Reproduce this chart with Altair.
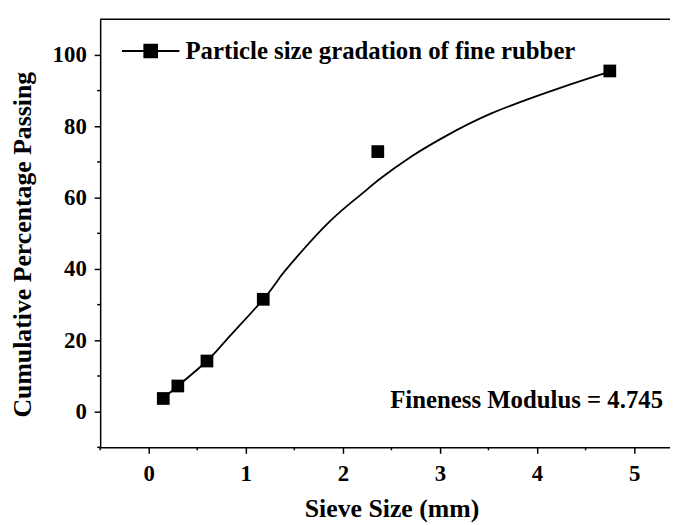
import altair as alt
import pandas as pd

# measured data points
sieve = [0.15, 0.3, 0.6, 1.18, 2.36, 4.75]
passing = [3.7, 7.2, 14.2, 31.5, 72.9, 95.5]

# fitted curve
curve_x = [0.15, 0.3, 0.6, 0.81, 1.18, 1.35, 1.52, 1.86, 2.17, 2.38, 2.71, 3.05, 3.53, 4.21, 4.75]
curve_y = [3.7, 7.2, 14.2, 20.4, 31.5, 37.6, 43.2, 53.2, 60.5, 65.2, 71.6, 77.1, 83.6, 90.5, 95.3]

series_name = "Particle size gradation of fine rubber"
annotation = ["Fineness Modulus = 4.745"]

x_major = [0, 1, 2, 3, 4, 5]
x_minor = [-0.5, 0.5, 1.5, 2.5, 3.5, 4.5]
y_major = [0, 20, 40, 60, 80, 100]
y_minor = [-10, 10, 30, 50, 70, 90]

FONT = "Liberation Serif"
W, H = 575, 432

pts = pd.DataFrame({"x": sieve, "y": passing, "series": [series_name] * len(sieve)})
crv = pd.DataFrame({"x": curve_x, "y": curve_y})
ann = pd.DataFrame({"label": annotation})
xmin_df = pd.DataFrame({"v": x_minor})
ymin_df = pd.DataFrame({"v": y_minor})

xscale = alt.Scale(domain=[-0.5, 5.37], nice=False, zero=False)
yscale = alt.Scale(domain=[-10, 110], nice=False, zero=False)

xaxis = alt.Axis(
    title="Sieve Size (mm)",
    values=x_major,
    format="d",
    tickSize=6,
    labelPadding=9,
    titleX=294,
    titleY=70,
    titleAlign="center",
    titleBaseline="alphabetic",
)
yaxis = alt.Axis(
    title="Cumulative Percentage Passing",
    values=y_major,
    format="d",
    tickSize=6,
    labelPadding=8,
    titleX=-78,
    titleY=227,
    titleAngle=270,
    titleAlign="center",
    titleBaseline="middle",
)

curve = alt.Chart(crv).mark_line(color="black", strokeWidth=1.8, interpolate="natural").encode(
    x=alt.X("x:Q", scale=xscale, axis=xaxis),
    y=alt.Y("y:Q", scale=yscale, axis=yaxis),
)

points = alt.Chart(pts).mark_square(size=165, opacity=1, filled=True).encode(
    x=alt.X("x:Q", scale=xscale),
    y=alt.Y("y:Q", scale=yscale),
    color=alt.Color(
        "series:N",
        scale=alt.Scale(domain=[series_name], range=["black"]),
        legend=alt.Legend(
            title=None,
            orient="none",
            legendX=21,
            legendY=2,
            padding=0,
            symbolType="M-1,0H1M-0.22,-0.22H0.22V0.22H-0.22Z",
            symbolSize=3364,
            symbolStrokeColor="black",
            symbolFillColor="black",
            symbolStrokeWidth=2,
            symbolOpacity=1,
            labelFont=FONT,
            labelFontSize=25,
            labelFontWeight="bold",
            labelColor="black",
            labelOffset=5,
            labelLimit=600,
        ),
    ),
)

x_minor_ticks = alt.Chart(xmin_df).mark_rule(color="black", strokeWidth=1.5).encode(
    x=alt.X("v:Q", scale=xscale), y=alt.value(H), y2=alt.value(H + 3)
)
y_minor_ticks = alt.Chart(ymin_df).mark_rule(color="black", strokeWidth=1.5).encode(
    y=alt.Y("v:Q", scale=yscale), x=alt.value(0), x2=alt.value(-3)
)

text = alt.Chart(ann).mark_text(
    align="right", baseline="alphabetic", font=FONT, fontSize=25, fontWeight="bold", color="black"
).encode(x=alt.value(568), y=alt.value(392), text="label:N")

top_border = alt.Chart(ann).mark_rule(color="black", strokeWidth=1.5).encode(
    x=alt.value(0), x2=alt.value(W), y=alt.value(0)
)

chart = (
    alt.layer(curve, points, x_minor_ticks, y_minor_ticks, text, top_border)
    .properties(
        width=W,
        height=H,
        autosize=alt.AutoSizeParams(type="none"),
        padding={"left": 93, "top": 9, "right": 0, "bottom": 75},
        background="white",
    )
    .configure_view(stroke=None)
    .configure_axis(
        grid=False,
        domainColor="black",
        domainWidth=1.5,
        tickColor="black",
        tickWidth=1.5,
        labelFont=FONT,
        labelFontSize=23,
        labelFontWeight="bold",
        labelColor="black",
        titleFont=FONT,
        titleFontSize=26,
        titleFontWeight="bold",
        titleColor="black",
    )
)

chart.save("out.html", embed_options={"renderer": "svg", "actions": False})
